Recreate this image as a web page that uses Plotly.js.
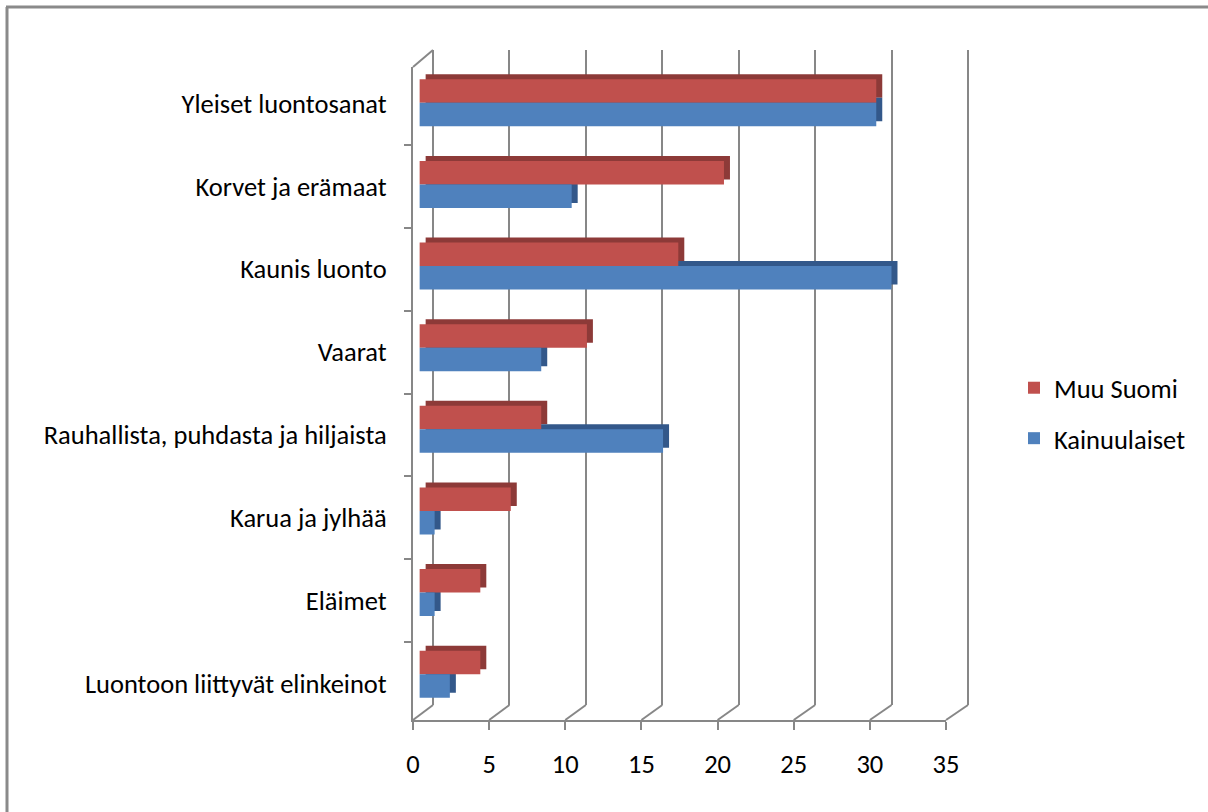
<!DOCTYPE html>
<html>
<head>
<meta charset="utf-8">
<script src="https://cdn.plot.ly/plotly-3.0.1.min.js"></script>
<style>html,body{margin:0;padding:0;background:#fff;}#chart{width:1208px;height:812px;}</style>
</head>
<body>
<div id="chart"></div>
<script>
const categories = ['Yleiset luontosanat','Korvet ja erämaat','Kaunis luonto','Vaarat','Rauhallista, puhdasta ja hiljaista','Karua ja jylhää','Eläimet','Luontoon liittyvät elinkeinot'];
const muuSuomi = [30,20,17,11,8,6,4,4];
const kainuulaiset = [30,10,31,8,16,1,1,2];
const xTicks = [0,5,10,15,20,25,30,35];
const seriesNames = ['Muu Suomi','Kainuulaiset'];

const W = 1208, H = 812;
const dx = (a,b) => [a/W, b/W];
const dy = (top,bottom) => [1-bottom/H, 1-top/H];
const px = v => v/W, py = v => 1-v/H;

// geometry (pixels)
const front = {l:413, r:946, t:67, b:720};
const back = {l:433, r:968, t:50, b:705};
const barOff = {x:6.4, y:-5};
const shade = {x:6, y:-5};
const backExt = 0.15; // extend back-wall range slightly so the 35 wall line is drawn
const backUnit = (back.r-back.l)/35;

const FONT = 'Carlito, Lato, "Liberation Sans", sans-serif';
const FS = 26.5;
const gray = '#878787';

const traces = [
  {type:'scatter', x:[], y:[], xaxis:'x', yaxis:'y', showlegend:false, hoverinfo:'skip'},
  {type:'bar', orientation:'h', name:seriesNames[0], x:muuSuomi, y:categories, xaxis:'x2', yaxis:'y2', marker:{color:'#8d3a38'}, showlegend:false, hoverinfo:'skip'},
  {type:'bar', orientation:'h', name:seriesNames[1], x:kainuulaiset, y:categories, xaxis:'x2', yaxis:'y2', marker:{color:'#33588a'}, showlegend:false, hoverinfo:'skip'},
  {type:'bar', orientation:'h', name:seriesNames[0], x:muuSuomi, y:categories, xaxis:'x3', yaxis:'y3', marker:{color:'#c0504d'}, legendgroup:'a'},
  {type:'bar', orientation:'h', name:seriesNames[1], x:kainuulaiset, y:categories, xaxis:'x3', yaxis:'y3', marker:{color:'#4f81bd'}, legendgroup:'b'},
  {type:'scatter', mode:'markers', x:muuSuomi, y:categories, xaxis:'x4', yaxis:'y4', marker:{opacity:0}, showlegend:false, hoverinfo:'skip'}
];

const hidden = {showgrid:false, zeroline:false, showline:false, showticklabels:false, ticks:''};
const catAxis = {type:'category', categoryorder:'array', categoryarray:categories, autorange:'reversed'};

const shapes = [];
// page border (left and top)
shapes.push({type:'line', xref:'paper', yref:'paper', x0:px(7), y0:py(7), x1:px(7), y1:py(830), line:{color:'#8a8a8a', width:3}});
shapes.push({type:'line', xref:'paper', yref:'paper', x0:px(6), y0:py(7), x1:px(1230), y1:py(7), line:{color:'#8a8a8a', width:3}});
// floor diagonals
xTicks.forEach(v => {
  const fx = front.l + v*(front.r-front.l)/35;
  const bx = back.l + v*backUnit;
  shapes.push({type:'line', xref:'paper', yref:'paper', x0:px(fx), y0:py(front.b), x1:px(bx), y1:py(back.b), line:{color:gray, width:2}, layer:'below'});
});
// top-left diagonal
shapes.push({type:'line', xref:'paper', yref:'paper', x0:px(front.l), y0:py(front.t), x1:px(back.l), y1:py(back.t), line:{color:gray, width:2}, layer:'below'});

const layout = {
  width:W, height:H,
  margin:{l:0,r:0,t:0,b:0},
  paper_bgcolor:'#fff', plot_bgcolor:'rgba(0,0,0,0)',
  font:{family:FONT, size:FS, color:'#000'},
  barmode:'group', bargap:0.425, bargroupgap:0,
  showlegend:true,
  legend:{x:px(1014), y:py(364), xanchor:'left', yanchor:'top', tracegroupgap:13, font:{family:FONT, size:FS, color:'#000'}, bgcolor:'rgba(0,0,0,0)'},
  xaxis:{domain:dx(back.l - backExt*backUnit, back.r + backExt*backUnit), range:[-backExt, 35+backExt], tickvals:xTicks, showgrid:true, gridcolor:gray, gridwidth:2, zeroline:false, showline:false, showticklabels:false, ticks:'', anchor:'y', fixedrange:true},
  yaxis:Object.assign({domain:dy(back.t, back.b), range:[0,1], anchor:'x'}, hidden),
  xaxis2:Object.assign({domain:dx(front.l+barOff.x+shade.x, front.r+barOff.x+shade.x), range:[0,35], anchor:'y2'}, hidden),
  yaxis2:Object.assign({domain:dy(front.t+barOff.y+shade.y, front.b+barOff.y+shade.y), anchor:'x2'}, hidden, catAxis),
  xaxis3:Object.assign({domain:dx(front.l+barOff.x, front.r+barOff.x), range:[0,35], anchor:'y3'}, hidden),
  yaxis3:Object.assign({domain:dy(front.t+barOff.y, front.b+barOff.y), anchor:'x3'}, hidden, catAxis),
  xaxis4:{domain:dx(front.l, front.r), range:[0,35], anchor:'y4', tickvals:xTicks, ticktext:xTicks.map(String), showgrid:false, zeroline:false, showline:true, linecolor:gray, linewidth:2, ticks:'outside', ticklen:8, tickwidth:2, tickcolor:gray, ticklabelstandoff:11, tickfont:{family:FONT, size:FS, color:'#000'}},
  yaxis4:Object.assign({domain:dy(front.t, front.b), anchor:'x4', showgrid:false, zeroline:false, showline:true, linecolor:gray, linewidth:2, ticks:'outside', ticklen:7, tickwidth:2, tickcolor:gray, tickson:'boundaries', ticklabelstandoff:19, tickfont:{family:FONT, size:FS, color:'#000'}}, catAxis),
  shapes:shapes
};

Plotly.newPlot('chart', traces, layout, {displayModeBar:false, staticPlot:true});
</script>
</body>
</html>
